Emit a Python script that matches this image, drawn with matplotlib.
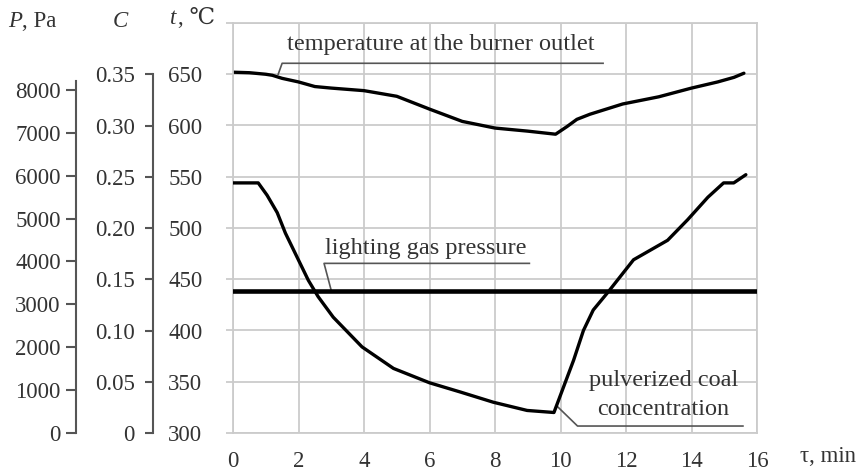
import matplotlib
matplotlib.use('Agg')
import matplotlib.pyplot as plt

plt.rcParams['font.family'] = ['Liberation Serif', 'DejaVu Serif']

# время, мин / time axis values
temp_tau = [0, 0.5, 1.0, 1.2, 1.5, 2.0, 2.5, 3.0, 4.0, 5.0, 6.0, 7.0, 8.0,
            9.0, 9.85, 10.2, 10.5, 10.9, 11.9, 13.0, 14.0, 14.8, 15.3, 15.6]
temp_t = [652, 651.5, 650, 649, 646, 642.5, 638, 636.5, 634, 628.5, 616, 604,
          597.5, 594.5, 591.5, 599, 606, 611, 621, 628, 636.5, 642.5, 647, 651]

conc_tau = [0, 0.77, 1.04, 1.35, 1.6, 1.95, 2.3, 2.6, 3.06, 3.94, 4.9, 6.0,
            6.94, 7.95, 8.98, 9.8, 10.4, 10.7, 11.0, 11.44, 12.23, 13.27,
            13.88, 14.5, 14.98, 15.29, 15.66]
conc_c = [0.244, 0.244, 0.232, 0.215, 0.195, 0.172, 0.149, 0.133, 0.113,
          0.084, 0.063, 0.049, 0.040, 0.030, 0.022, 0.020, 0.071, 0.100,
          0.120, 0.137, 0.169, 0.188, 0.208, 0.230, 0.244, 0.244, 0.252]

pressure_tau = [0, 16]
pressure_pa = [3300, 3300]

tau_ticks = [0, 2, 4, 6, 8, 10, 12, 14, 16]
t_ticks = [300, 350, 400, 450, 500, 550, 600, 650, 700]
t_labels = ['300', '350', '400', '450', '500', '550', '600', '650', '']
c_ticks = [0, 0.05, 0.10, 0.15, 0.20, 0.25, 0.30, 0.35]
c_labels = ['0', '0.05', '0.10', '0.15', '0.20', '0.25', '0.30', '0.35']
p_ticks = [0, 1000, 2000, 3000, 4000, 5000, 6000, 7000, 8000]

W, H = 863, 473
txt = '#333333'
grid_c = '#cbcbcb'
fs = 16.5

fig = plt.figure(figsize=(W / 100, H / 100), dpi=100)
ax = fig.add_axes([233 / W, 1 - 433 / H, 524 / W, 410 / H])

# основная ось: температура
ax.set_xlim(0, 16)
ax.set_ylim(300, 700)
ax.set_xticks(tau_ticks)
ax.set_yticks(t_ticks)
ax.set_yticklabels(t_labels)
ax.grid(True, color=grid_c, lw=1.3)
ax.set_axisbelow(True)
for s in ax.spines.values():
    s.set_color(grid_c)
    s.set_linewidth(1.3)
ax.tick_params(axis='x', length=0, pad=13, labelsize=fs, labelcolor=txt)
ax.tick_params(axis='y', length=5, width=1.3, color=grid_c, pad=17,
               labelsize=fs, labelcolor=txt)
ax.plot(temp_tau, temp_t, color='black', lw=2.4, solid_capstyle='round')

# ось концентрации
axC = ax.twinx()
axC.set_ylim(0, 0.4)
axC.yaxis.set_ticks_position('left')
axC.spines['left'].set_position(('axes', -80 / 524))
axC.spines['left'].set_bounds(0, 0.35)
for k in ['right', 'top', 'bottom']:
    axC.spines[k].set_visible(False)
axC.spines['left'].set_color('#555555')
axC.spines['left'].set_linewidth(1.5)
axC.set_yticks(c_ticks)
axC.set_yticklabels(c_labels)
axC.tick_params(axis='y', length=6, width=1.5, color='#555555', pad=7,
                labelsize=fs, labelcolor=txt)
axC.plot(conc_tau, conc_c, color='black', lw=2.4, solid_capstyle='round')

# ось давления
axP = ax.twinx()
axP.set_ylim(0, 9560)
axP.yaxis.set_ticks_position('left')
axP.spines['left'].set_position(('axes', -157 / 524))
axP.spines['left'].set_bounds(0, 8200)
for k in ['right', 'top', 'bottom']:
    axP.spines[k].set_visible(False)
axP.spines['left'].set_color('#555555')
axP.spines['left'].set_linewidth(1.5)
axP.set_yticks(p_ticks)
axP.tick_params(axis='y', length=7, width=1.5, color='#555555', pad=4,
                labelsize=fs, labelcolor=txt)
axP.plot(pressure_tau, pressure_pa, color='black', lw=3.3)

# подписи кривых с выносками
lead = dict(color='#555555', lw=1.2)
ax.plot([1.38, 1.5, 11.3], [650, 660.7, 660.7], **lead)
ax.text(6.35, 679, 'temperature at the burner outlet', ha='center',
        va='center', fontsize=17.5, color=txt)
ax.plot([3.0, 2.78, 9.05], [439, 465.5, 465.5], **lead)
ax.text(5.9, 480, 'lighting gas pressure', ha='center', va='center',
        fontsize=17.5, color=txt)
ax.plot([9.9, 10.52, 15.57], [326, 306.8, 306.8], **lead)
ax.text(13.15, 337, 'pulverized coal\nconcentration', ha='center',
        va='center', fontsize=17.5, color=txt, linespacing=1.45)

# заголовки осей
y0 = 1 - 21 / H
fig.text(8 / W, y0, 'P', fontstyle='italic', fontsize=fs, color=txt,
         va='center', ha='left')
fig.text(22 / W, y0, ', Pa', fontsize=fs, color=txt, va='center', ha='left')
fig.text(120 / W, y0, 'C', fontstyle='italic', fontsize=fs, color=txt,
         va='center', ha='center')
fig.text(170 / W, 1 - 19 / H, 't', fontstyle='italic', fontsize=fs,
         color=txt, va='center', ha='left')
fig.text(178 / W, 1 - 19 / H, ', ℃', fontsize=fs, color=txt, va='center',
         ha='left')
fig.text(800 / W, 1 - 456 / H, 'τ, min', fontsize=fs, color=txt,
         va='center', ha='left')

fig.savefig('out.png', dpi=100)
